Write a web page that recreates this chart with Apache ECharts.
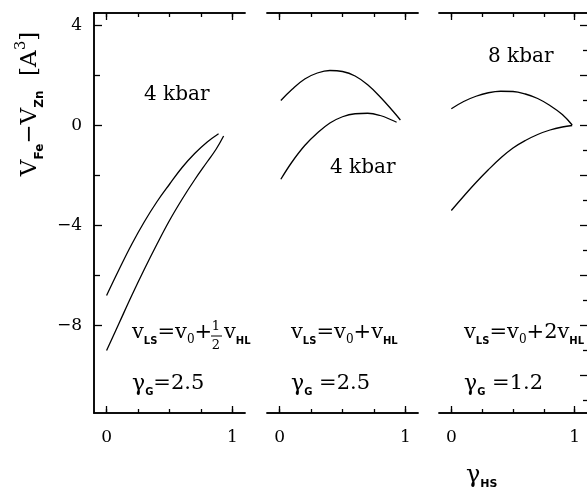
<!DOCTYPE html>
<html><head><meta charset="utf-8">
<script src="https://cdn.jsdelivr.net/npm/echarts@6/dist/echarts.min.js"></script>
<style>html,body{margin:0;padding:0;background:#fff}#c{width:587px;height:493px}</style>
</head><body><div id="c"></div>
<script>
// ---- data ----
const xTickMinor = [0, 0.25, 0.5, 0.75, 1];
const xTickMajor = [0, 1];
const xTickLabels = [0, 1];
const yTickLabels = [4, 0, -4, -8];
const yTickMajor = [4, 0, -4, -8];
const yTickMinor = [2, -2, -6];
const rightTickMajor = [4, 2, 0, -2, -4, -6, -8, -10];
const rightTickMinor = [3, 1, -1, -3, -5, -7, -9, -11];

const panel1Upper = [[0,-6.8],[0.1,-5.75],[0.2,-4.75],[0.3,-3.85],[0.4,-3.05],[0.5,-2.35],[0.6,-1.68],[0.7,-1.12],[0.8,-0.66],[0.89,-0.33]];
const panel1Lower = [[0,-9.0],[0.1,-7.9],[0.2,-6.8],[0.3,-5.75],[0.4,-4.75],[0.5,-3.8],[0.6,-2.95],[0.7,-2.17],[0.8,-1.45],[0.87,-0.95],[0.93,-0.42]];
const panel2Upper = [[0.01,1.0],[0.1,1.45],[0.2,1.86],[0.3,2.1],[0.4,2.2],[0.5,2.16],[0.6,1.98],[0.7,1.63],[0.8,1.14],[0.9,0.58],[0.96,0.22]];
const panel2Lower = [[0.01,-2.15],[0.1,-1.45],[0.2,-0.8],[0.3,-0.3],[0.4,0.1],[0.5,0.35],[0.6,0.47],[0.7,0.49],[0.8,0.4],[0.9,0.2],[0.93,0.13]];
const panel3Upper = [[0,0.67],[0.1,0.96],[0.2,1.17],[0.3,1.31],[0.4,1.37],[0.5,1.36],[0.6,1.26],[0.7,1.08],[0.8,0.8],[0.9,0.44],[0.98,0.02]];
const panel3Lower = [[0,-3.4],[0.1,-2.83],[0.2,-2.28],[0.3,-1.77],[0.4,-1.3],[0.5,-0.9],[0.6,-0.6],[0.7,-0.36],[0.8,-0.18],[0.9,-0.06],[0.98,0.0]];

// ---- layout ----
const panels = [
  {left: 94, width: 151},
  {left: 267, width: 151},
  {left: 439, width: 150}
];
const TOP = 13, HEIGHT = 400;
const BLACK = '#000';
const SERIF = 'DejaVu Serif';

const grids = [], xAxes = [], yAxes = [];
function xAx(g, pos, ticks, len, labels) {
  return {
    type: 'value', gridIndex: g, position: pos, min: -0.1, max: 1.1,
    axisLine: {show: true, onZero: false, lineStyle: {color: BLACK, width: 1.5}},
    axisTick: {show: true, inside: true, length: len, customValues: ticks, lineStyle: {color: BLACK, width: 1.3}},
    axisLabel: labels ? {show: true, customValues: labels, margin: 16, color: BLACK, fontFamily: SERIF, fontSize: 17} : {show: false},
    splitLine: {show: false}
  };
}
function yAx(g, pos, ticks, len, labels, showLine) {
  return {
    type: 'value', gridIndex: g, position: pos, min: -11.5, max: 4.5,
    show: ticks !== null,
    axisLine: {show: !!showLine, onZero: false, lineStyle: {color: BLACK, width: 1.5}},
    axisTick: {show: !!ticks, inside: true, length: len, customValues: ticks || [], lineStyle: {color: BLACK, width: 1.3}},
    axisLabel: labels ? {show: true, customValues: labels, margin: 12, color: BLACK, fontFamily: SERIF, fontSize: 17,
      formatter: v => (v < 0 ? '\u2212' + Math.abs(v) : String(v))} : {show: false},
    splitLine: {show: false}
  };
}
panels.forEach((p, i) => {
  const gA = grids.length;
  grids.push({left: p.left, top: TOP, width: p.width, height: HEIGHT});
  const gB = grids.length;
  grids.push({left: p.left, top: TOP, width: p.width, height: HEIGHT});
  xAxes.push(xAx(gA, 'bottom', xTickMinor, 4, null));
  xAxes.push(xAx(gA, 'top', xTickMinor, 4, null));
  xAxes.push(xAx(gB, 'bottom', xTickMajor, 7, xTickLabels));
  xAxes.push(xAx(gB, 'top', xTickMajor, 7, null));
  if (i === 0) {
    yAxes.push(yAx(gA, 'left', yTickMinor, 6, null, true));
    yAxes.push(yAx(gB, 'left', yTickMajor, 8, yTickLabels, true));
  } else if (i === 1) {
    yAxes.push(yAx(gA, 'left', null, 0, null, false));
    yAxes.push(yAx(gB, 'left', null, 0, null, false));
  } else {
    yAxes.push(yAx(gA, 'right', rightTickMinor, 4, null, false));
    yAxes.push(yAx(gB, 'right', rightTickMajor, 7, null, false));
  }
});

const curves = [[panel1Upper, panel1Lower], [panel2Upper, panel2Lower], [panel3Upper, panel3Lower]];
const series = [];
curves.forEach((pair, i) => {
  pair.forEach(d => series.push({
    type: 'line', xAxisIndex: i * 4, yAxisIndex: i * 2, data: d,
    smooth: 0.4, showSymbol: false, silent: true,
    lineStyle: {color: BLACK, width: 1.3}
  }));
});

const rich = {
  v: {fontFamily: SERIF, fontSize: 21, lineHeight: 26, verticalAlign: 'middle', fill: BLACK},
  g: {fontFamily: SERIF, fontSize: 22, lineHeight: 26, verticalAlign: 'middle', fill: BLACK},
  s: {fontFamily: 'DejaVu Sans', fontSize: 10, fontWeight: 'bold', lineHeight: 13, verticalAlign: 'bottom', fill: BLACK},
  z: {fontFamily: SERIF, fontSize: 12, lineHeight: 13, verticalAlign: 'bottom', fill: BLACK},
  G: {fontFamily: SERIF, fontSize: 24, lineHeight: 28, verticalAlign: 'middle', fill: BLACK},
  S: {fontFamily: 'DejaVu Sans', fontSize: 11, fontWeight: 'bold', lineHeight: 13, verticalAlign: 'bottom', fill: BLACK}
};
function txt(x, y, text) {
  return {type: 'text', x: x, y: y, silent: true,
    style: {text: text, rich: rich, verticalAlign: 'middle', align: 'left', fill: BLACK}};
}
function plain(x, y, text, size, align) {
  return {type: 'text', x: x, y: y, silent: true,
    style: {text: text, fontFamily: SERIF, fontSize: size, fill: BLACK, align: align || 'left', verticalAlign: 'middle'}};
}

const graphic = [
  plain(144, 95, '4 kbar', 20),
  plain(330, 168, '4 kbar', 20),
  plain(488, 57, '8 kbar', 20),
  txt(132, 333, '{v|v}{s|LS}{v|=v}{z|0}{v|+}'),
  plain(216, 327, '1', 13, 'center'),
  {type: 'line', silent: true, shape: {x1: 211, y1: 336, x2: 222, y2: 336}, style: {stroke: BLACK, lineWidth: 1}},
  plain(216, 346, '2', 13, 'center'),
  txt(224, 333, '{v|v}{s|HL}'),
  txt(291, 333, '{v|v}{s|LS}{v|=v}{z|0}{v|+v}{s|HL}'),
  txt(464, 333, '{v|v}{s|LS}{v|=v}{z|0}{v|+2v}{s|HL}'),
  txt(132, 384, '{g|\u03b3}{s|G}{v|=2.5}'),
  txt(291, 384, '{g|\u03b3}{s|G}{v| =2.5}'),
  txt(464, 384, '{g|\u03b3}{s|G}{v| =1.2}'),
  txt(466, 476, '{G|\u03b3}{S|HS}'),
  {type: 'text', x: 30, y: 104, rotation: Math.PI / 2, silent: true,
   style: {text: '{V|V}{S|Fe}{V|\u2212V}{S|Zn}{V|  [A}{P|3}{V|]}', align: 'center', verticalAlign: 'middle',
     rich: {
       V: {fontFamily: SERIF, fontSize: 23, lineHeight: 32, verticalAlign: 'middle', fill: BLACK},
       S: {fontFamily: 'DejaVu Sans', fontSize: 12, fontWeight: 'bold', lineHeight: 16, verticalAlign: 'bottom', fill: BLACK},
       P: {fontFamily: SERIF, fontSize: 15, lineHeight: 18, verticalAlign: 'top', fill: BLACK}
     }}}
];

const chart = echarts.init(document.getElementById('c'), null, {renderer: 'canvas'});
chart.setOption({
  animation: false,
  backgroundColor: '#fff',
  grid: grids,
  xAxis: xAxes,
  yAxis: yAxes,
  series: series,
  graphic: graphic
});
</script></body></html>
